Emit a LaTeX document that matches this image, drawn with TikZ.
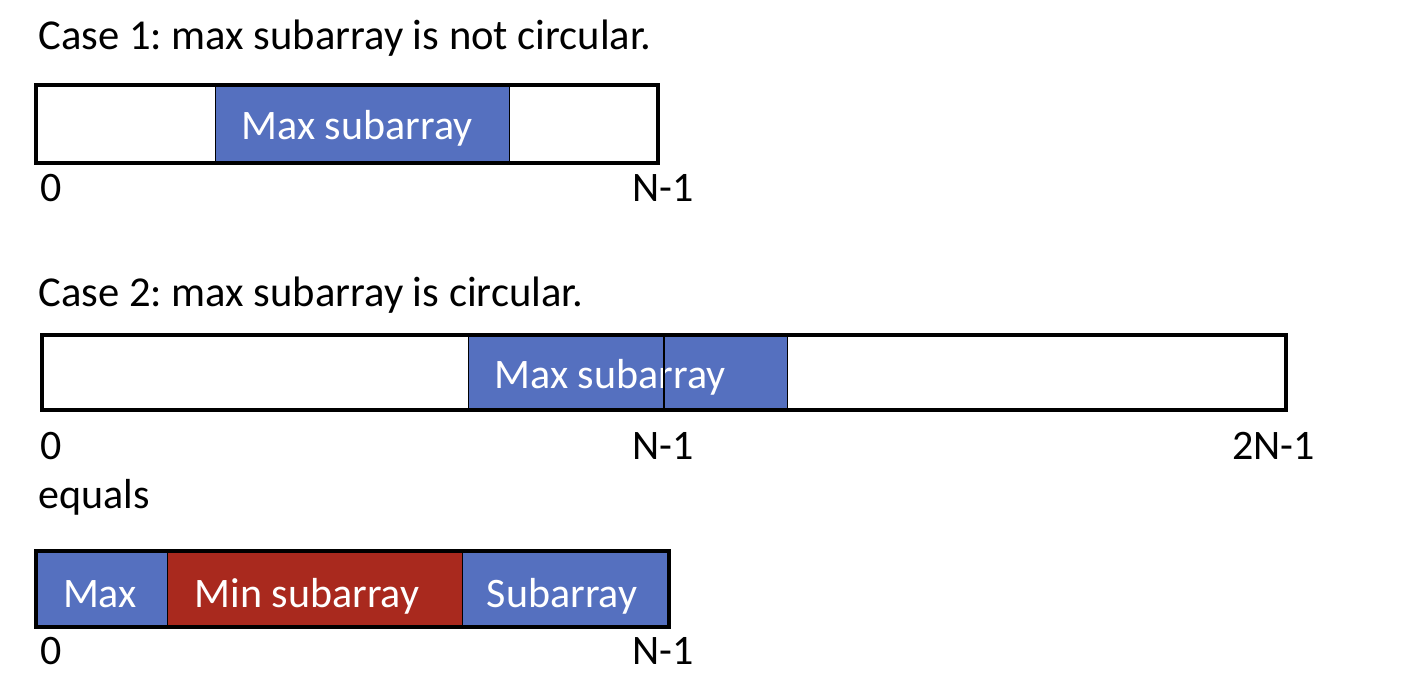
\documentclass[tikz,border=0pt]{standalone}
\usepackage{fontspec}
\setmainfont{Carlito}
\frenchspacing
\definecolor{accblue}{HTML}{5570BF}
\definecolor{accred}{HTML}{A9291E}
\begin{document}
\begin{tikzpicture}[x=0.5pt,y=-0.5pt,
  frame/.style={draw=black,line width=1.6pt},
  thin/.style={draw=black,line width=0.5pt},
  lbl/.style={anchor=base west,inner sep=0pt,font=\fontsize{21}{25}\selectfont},
  ttl/.style={anchor=base west,inner sep=0pt,font=\fontsize{21.3}{26}\selectfont},
  intxt/.style={anchor=base,inner sep=0pt,text=white,font=\fontsize{21}{25}\selectfont}]
\useasboundingbox (0,0) rectangle (1422,684);
% Case 1
\node[ttl] (t1) at (38,50) {Case 1: max subarray is not circular.};
\fill[accblue] (215,85) rectangle (509,163);
\draw[thin] (215,85) -- (215,163) (509,85) -- (509,163);
\draw[frame] (36,85) rectangle (658,163);
\node[intxt] (m1) at (357,140) {Max subarray};
\node[lbl] (a0) at (40,202) {0};
\node[lbl] (a1) at (632,202) {N-1};
% Case 2
\node[ttl] (t2) at (38,306) {Case 2: max subarray is circular.};
\fill[accblue] (468,335) rectangle (787,410);
\draw[thin] (468,335) -- (468,410) (787,335) -- (787,410);
\node[intxt] (m2) at (610,388) {Max subarray};
\draw[draw=black,line width=1pt] (664,335) -- (664,410);
\draw[frame] (42,335) rectangle (1286,410);
\node[lbl] (b0) at (40,459) {0};
\node[lbl] (b1) at (632,459) {N-1};
\node[lbl] (b2) at (1232,459) {2N-1};
\node[lbl] (eq) at (38,508) {equals};
% equals box
\fill[accblue] (36,551) rectangle (167,627);
\fill[accred] (167,551) rectangle (462,627);
\fill[accblue] (462,551) rectangle (669,627);
\draw[thin] (167,551) -- (167,627) (462,551) -- (462,627);
\draw[frame] (36,551) rectangle (669,627);
\node[intxt] (c1) at (100,607) {Max};
\node[intxt] (c2) at (307,607) {Min subarray};
\node[intxt] (c3) at (562,607) {Subarray};
\node[lbl] (d0) at (40,664) {0};
\node[lbl] (d1) at (632,664) {N-1};
\end{tikzpicture}
\end{document}
